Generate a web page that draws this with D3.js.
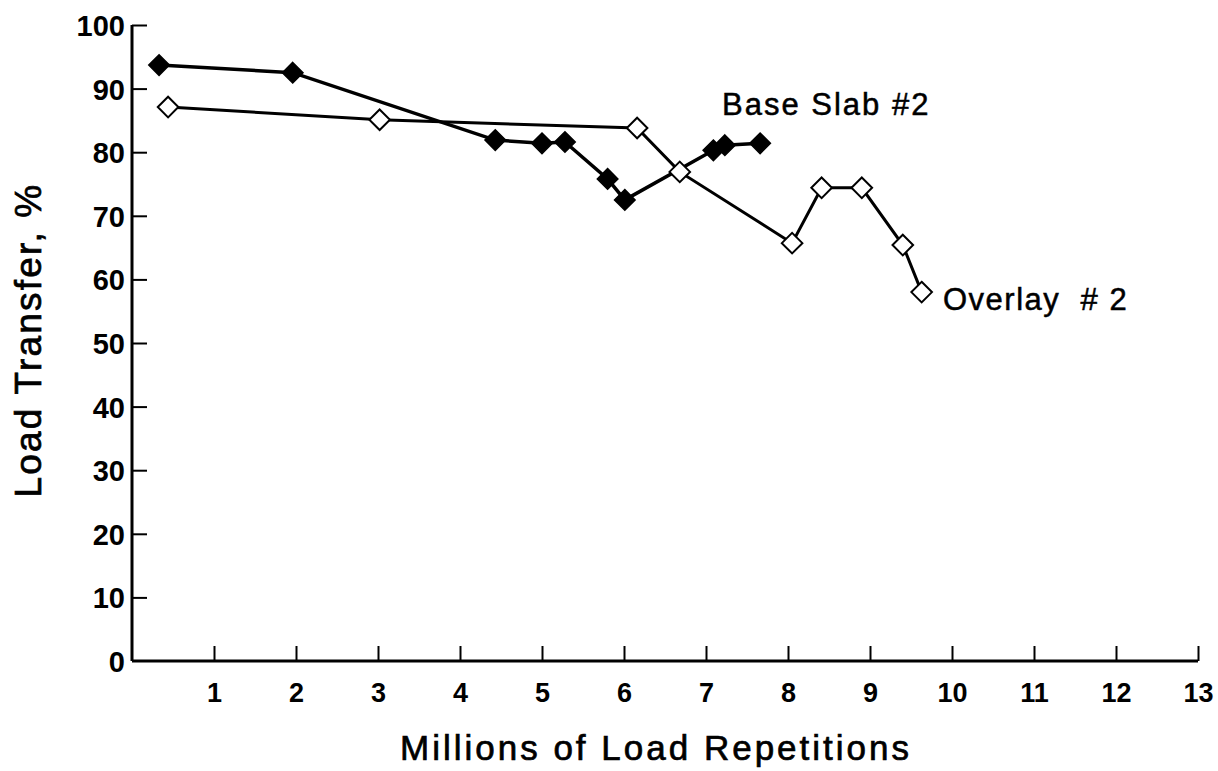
<!DOCTYPE html>
<html>
<head>
<meta charset="utf-8">
<script src="https://cdn.jsdelivr.net/npm/d3@7"></script>
<style>
  body { margin: 0; background: #fff; }
  svg { display: block; }
</style>
</head>
<body>
<div id="chart"></div>
<script>
// Daten
const baseX = [0.33, 1.96, 4.43, 5.0, 5.28, 5.80, 6.01, 7.09, 7.23, 7.66];
const baseY = [93.7, 92.5, 81.9, 81.4, 81.6, 75.8, 72.5, 80.3, 81.1, 81.4];
const overlayX = [0.44, 3.02, 6.16, 6.68, 8.05, 8.41, 8.90, 9.40, 9.63];
const overlayY = [87.1, 85.1, 83.8, 76.9, 65.7, 74.4, 74.4, 65.4, 58.0];
const xTicks = [1, 2, 3, 4, 5, 6, 7, 8, 9, 10, 11, 12, 13];
const yTicks = [0, 10, 20, 30, 40, 50, 60, 70, 80, 90, 100];

const W = 1218, H = 771;
const margin = { top: 25, right: 20, bottom: 110, left: 132 };
const width = 1198 - margin.left;
const height = 661 - margin.top;
const FONT = "'Liberation Sans', Arial, Helvetica, sans-serif";

const svg = d3.select("#chart").append("svg")
    .attr("width", W)
    .attr("height", H);

const g = svg.append("g")
    .attr("transform", `translate(${margin.left}, ${margin.top})`);

// Skalen
const x = d3.scaleLinear().domain([0, 13]).range([0, width]);
const y = d3.scaleLinear().domain([0, 100]).range([height, 0]);

// X-Achse (Ticks nach innen)
const xAxis = g.append("g")
    .attr("transform", `translate(0, ${height})`)
    .call(d3.axisBottom(x).tickValues(xTicks).tickSize(-15).tickPadding(0).tickSizeOuter(0));
xAxis.select(".domain").attr("stroke-width", 3).attr("d", `M0,0H${width}`);
xAxis.selectAll(".tick line").attr("stroke-width", 2);
xAxis.selectAll(".tick text")
    .attr("y", 41)
    .attr("dy", 0)
    .attr("font-family", "'Liberation Sans Narrow', " + FONT)
    .attr("font-weight", "bold")
    .attr("font-size", "27px")
    .attr("fill", "#000");

// Y-Achse (Ticks nach innen)
const yAxis = g.append("g")
    .call(d3.axisLeft(y).tickValues(yTicks).tickSize(-15).tickPadding(0).tickSizeOuter(0));
yAxis.select(".domain").attr("stroke-width", 3).attr("d", `M0,${height}V0`);
yAxis.selectAll(".tick line").attr("stroke-width", 2);
yAxis.selectAll(".tick text")
    .attr("x", -7)
    .attr("dy", "0.36em")
    .attr("font-family", FONT)
    .attr("font-weight", "bold")
    .attr("font-size", "29px")
    .attr("fill", "#000");
yAxis.selectAll(".tick").filter(d => d === 0).select("line").remove();

// Achsentitel
svg.append("text")
    .attr("x", 656)
    .attr("y", 760)
    .attr("text-anchor", "middle")
    .attr("font-family", FONT)
    .attr("font-size", "35px")
    .attr("letter-spacing", "3px")
    .attr("stroke", "#000")
    .attr("stroke-width", 0.7)
    .text("Millions of Load Repetitions");

svg.append("text")
    .attr("transform", `translate(41, 340) rotate(-90)`)
    .attr("text-anchor", "middle")
    .attr("font-family", FONT)
    .attr("font-size", "37px")
    .attr("letter-spacing", "2.2px")
    .attr("stroke", "#000")
    .attr("stroke-width", 0.7)
    .text("Load Transfer, %");

// Linien
const line = d3.line().x(d => x(d[0])).y(d => y(d[1]));
const baseData = baseX.map((v, i) => [v, baseY[i]]);
const overlayData = overlayX.map((v, i) => [v, overlayY[i]]);

const diamondType = d3.symbolDiamond2 || d3.symbolDiamond;
const diamond = d3.symbol().type(diamondType).size(270);

g.append("path")
    .datum(overlayData)
    .attr("fill", "none")
    .attr("stroke", "#000")
    .attr("stroke-width", 3)
    .attr("d", line);

g.append("path")
    .datum(baseData)
    .attr("fill", "none")
    .attr("stroke", "#000")
    .attr("stroke-width", 3.5)
    .attr("d", line);

// Marker
g.selectAll(".base")
    .data(baseData)
    .enter()
    .append("path")
    .attr("class", "base")
    .attr("transform", d => `translate(${x(d[0])}, ${y(d[1])})`)
    .attr("d", diamond)
    .attr("fill", "#000")
    .attr("stroke", "#000")
    .attr("stroke-width", 1.5);

g.selectAll(".overlay")
    .data(overlayData)
    .enter()
    .append("path")
    .attr("class", "overlay")
    .attr("transform", d => `translate(${x(d[0])}, ${y(d[1])})`)
    .attr("d", diamond)
    .attr("fill", "#fff")
    .attr("stroke", "#000")
    .attr("stroke-width", 2);

// Beschriftungen der Kurven
svg.append("text")
    .attr("x", 722)
    .attr("y", 115)
    .attr("font-family", FONT)
    .attr("font-size", "31px")
    .attr("letter-spacing", "2px")
    .attr("stroke", "#000")
    .attr("stroke-width", 0.5)
    .text("Base Slab #2");

svg.append("text")
    .attr("x", 943)
    .attr("y", 310)
    .attr("font-family", FONT)
    .attr("font-size", "31px")
    .attr("letter-spacing", "1.5px")
    .attr("stroke", "#000")
    .attr("stroke-width", 0.5)
    .attr("xml:space", "preserve")
    .style("white-space", "pre")
    .text("Overlay  # 2");
</script>
</body>
</html>
